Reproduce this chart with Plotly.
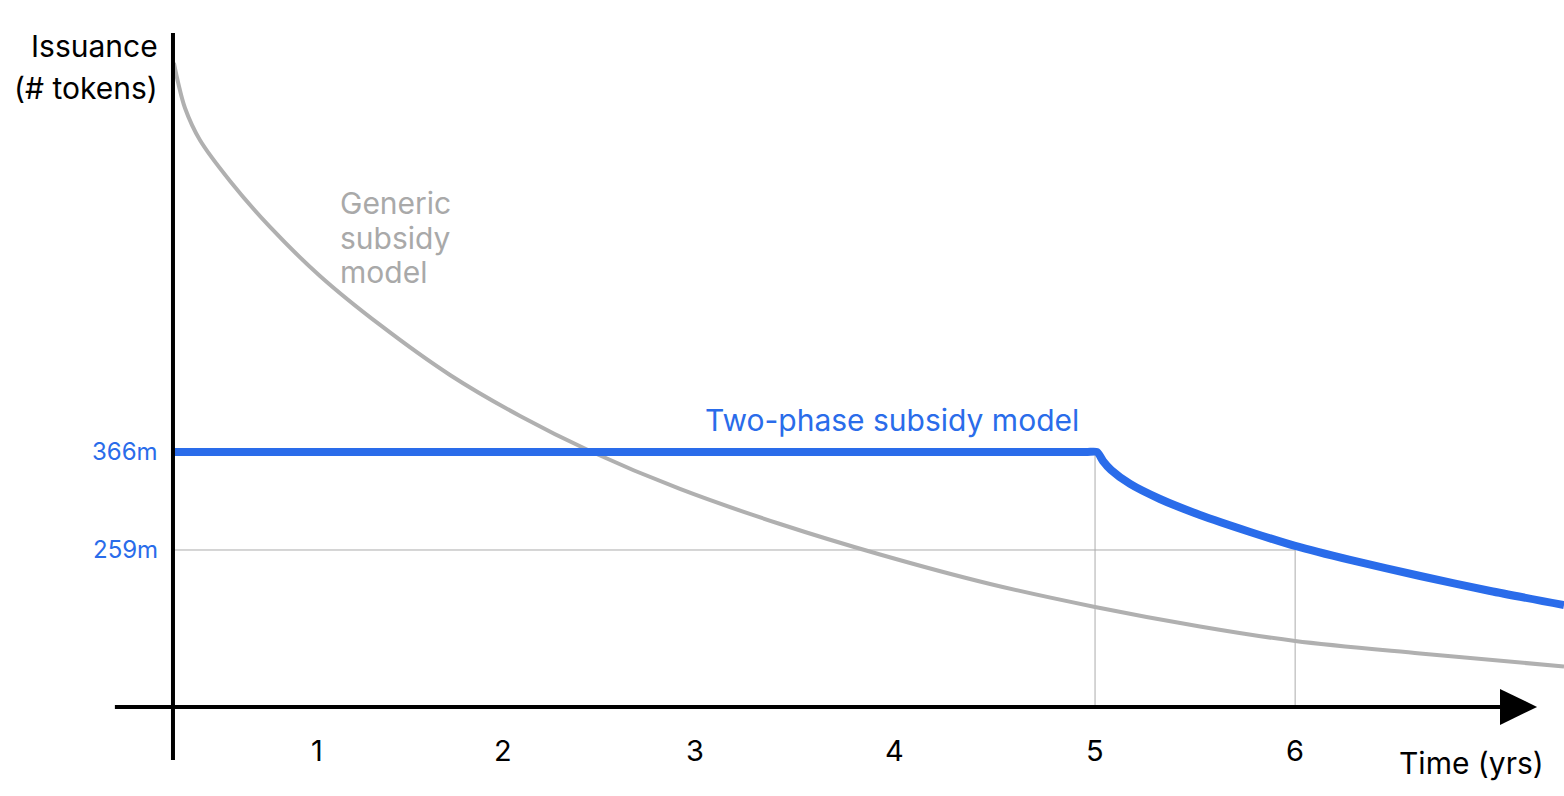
import plotly.graph_objects as go

# Curva genérica (años, millones de tokens)
gen_x = [0.005, 0.027, 0.065, 0.146, 0.309, 0.526, 0.797, 1.123, 1.502, 1.882, 2.261, 2.749,
         3.292, 3.834, 4.431, 5.000, 5.569, 6.085, 6.763, 7.543]
gen_y = [790.7, 770.0, 741.6, 706.6, 661.9, 611.7, 558.2, 504.7, 450.1, 405.3, 367.1, 325.6,
         287.4, 254.1, 221.9, 196.8, 175.5, 159.6, 146.0, 131.8]

# Modelo de dos fases: plano hasta el año 5 y luego decae
two_x = [0.0, 4.95, 5.011, 5.043, 5.087, 5.190, 5.352, 5.569, 5.841, 6.085, 6.383, 6.763,
         7.143, 7.543]
two_y = [366, 366, 366, 356.2, 346.3, 331.1, 314.7, 297.2, 278.7, 263.4, 248.1, 230.6,
         214.2, 198.9]

# Valores de referencia
nivel_alto = 366
nivel_bajo = 259
anio_corte = 5.0
anio_seis = 6.085
base_eje = 87.6  # donde cruza el eje de tiempo

# Etiquetas de los ejes
tick_pos = [0.78, 1.79, 2.83, 3.91, 5.0, 6.085]
tick_text = ["1", "2", "3", "4", "5", "6"]
ytick_vals = [nivel_alto, nivel_bajo]
ytick_text = ["366m", "259m"]
generic_lines = ["Generic", "subsidy", "model"]
generic_y = [637.9, 599.6, 562.5]

AZUL = "#2a6cea"
GRIS = "#b0b0b0"
GRIS_FINO = "#ababab"
FUENTE = "Inter"

fig = go.Figure()

# Líneas guía finas
fig.add_trace(go.Scatter(x=[0, anio_seis, anio_seis], y=[nivel_bajo, nivel_bajo, base_eje],
                         mode='lines', line=dict(color=GRIS_FINO, width=1), hoverinfo='skip'))
fig.add_trace(go.Scatter(x=[anio_corte, anio_corte], y=[nivel_alto, base_eje],
                         mode='lines', line=dict(color=GRIS_FINO, width=1), hoverinfo='skip'))

# Curvas
fig.add_trace(go.Scatter(x=gen_x, y=gen_y, mode='lines', name='Generic subsidy model',
                         line=dict(color=GRIS, width=4, shape='spline', smoothing=0.9)))
fig.add_trace(go.Scatter(x=two_x, y=two_y, mode='lines', name='Two-phase subsidy model',
                         line=dict(color=AZUL, width=8, shape='spline', smoothing=0.6)))

# Ejes dibujados a mano
fig.add_shape(type='line', x0=0, x1=0, y0=29.7, y1=823.5, line=dict(color='black', width=4), layer='above')
fig.add_shape(type='line', x0=-0.315, x1=7.22, y0=base_eje, y1=base_eje, line=dict(color='black', width=4), layer='above')
fig.add_shape(type='path', path=f"M 7.196 {base_eje + 19.7} L 7.397 {base_eje} L 7.196 {base_eje - 19.7} Z",
              fillcolor='black', line=dict(color='black', width=0), layer='above')

# Etiquetas de ticks
for xv, txt in zip(tick_pos, tick_text):
    fig.add_annotation(x=xv, y=40.6, text=txt, showarrow=False, xanchor='center', yanchor='middle',
                       font=dict(family=FUENTE, size=29, color='black'))
for yv, txt in zip(ytick_vals, ytick_text):
    fig.add_annotation(x=-0.07, y=yv, text=txt, showarrow=False, xanchor='right', yanchor='middle',
                       font=dict(family=FUENTE, size=24, color=AZUL))

# Títulos de ejes
fig.add_annotation(x=-0.07, y=809.3, text="Issuance", showarrow=False, xanchor='right', yanchor='middle',
                   font=dict(family=FUENTE, size=30, color='black'))
fig.add_annotation(x=-0.07, y=763.4, text="(# tokens)", showarrow=False, xanchor='right', yanchor='middle',
                   font=dict(family=FUENTE, size=30, color='black'))
fig.add_annotation(x=7.444, y=26.5, text="Time (yrs)", showarrow=False, xanchor='right', yanchor='middle',
                   font=dict(family=FUENTE, size=30, color='black'))

# Etiquetas de series
for txt, yv in zip(generic_lines, generic_y):
    fig.add_annotation(x=0.895, y=yv, text=txt, showarrow=False, xanchor='left', yanchor='middle',
                       font=dict(family=FUENTE, size=30, color="#a9a9a9"))
fig.add_annotation(x=2.874, y=400.9, text="Two-phase subsidy model", showarrow=False, xanchor='left',
                   yanchor='middle', font=dict(family=FUENTE, size=30, color=AZUL))

fig.update_layout(width=1564, height=796, margin=dict(l=0, r=0, t=0, b=0),
                  plot_bgcolor='white', paper_bgcolor='white', showlegend=False,
                  xaxis=dict(range=[-0.938, 7.543], visible=False),
                  yaxis=dict(range=[-9.6, 859.5], visible=False))

# quitar el margen por defecto del body para que la figura ocupe la ventana
fig.write_html("out.html", config={'displayModeBar': False},
               post_script="document.body.style.margin='0';")
